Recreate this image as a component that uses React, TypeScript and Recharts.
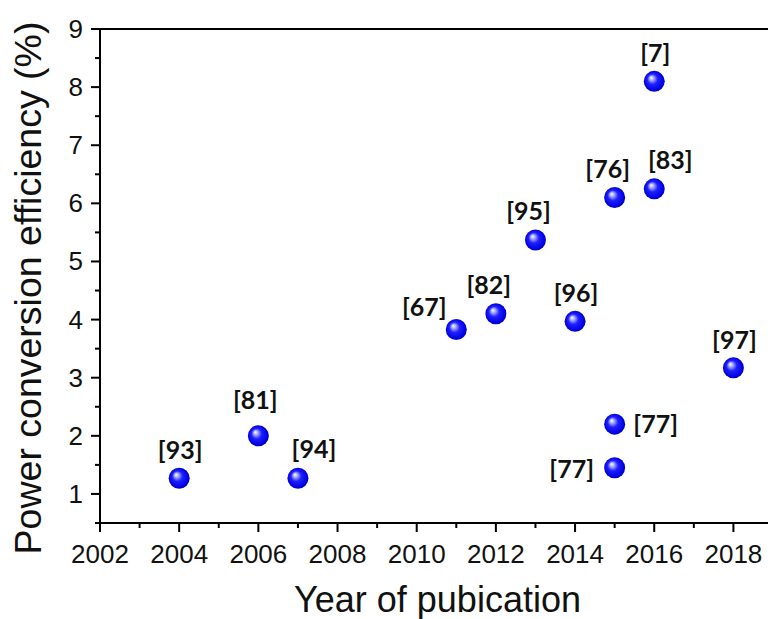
import React from "react";
import {
  ReferenceLine,
  Scatter,
  ScatterChart,
  XAxis,
  YAxis,
} from "recharts";

// values
const years = [2004, 2006, 2007, 2011, 2012, 2013, 2014, 2015, 2016, 2016, 2018, 2015, 2015];
const pce = [1.27, 2.0, 1.27, 3.83, 4.1, 5.37, 3.97, 6.1, 8.1, 6.25, 3.17, 2.2, 1.45];
const refs = ["[93]", "[81]", "[94]", "[67]", "[82]", "[95]", "[96]", "[76]", "[7]", "[83]", "[97]", "[77]", "[77]"];
const labelSide = [
  "above", "high", "aboveRight", "leftUp", "aboveLeft", "aboveLeft", "above",
  "aboveLeft", "above", "aboveRight", "above", "right", "left",
];

const xTicks = [2002, 2003, 2004, 2005, 2006, 2007, 2008, 2009, 2010, 2011, 2012, 2013, 2014, 2015, 2016, 2017, 2018, 2019];
const yTicks = [0.5, 1, 1.5, 2, 2.5, 3, 3.5, 4, 4.5, 5, 5.5, 6, 6.5, 7, 7.5, 8, 8.5, 9];

const points = years.map((year, i) => ({
  year,
  pce: pce[i],
  ref: refs[i],
  side: labelSide[i],
}));

const OFFSETS: Record<string, [number, number]> = {
  above: [1, -29],
  high: [-3, -37],
  aboveLeft: [-7, -30],
  aboveRight: [16, -30],
  leftUp: [-32, -23],
  right: [41, -1],
  left: [-43, 0],
};

const AXIS_FONT = "'Liberation Sans', Arial, sans-serif";
const LABEL_FONT = "Lato, 'Open Sans', sans-serif";

function XTick(props: any) {
  const { x, y, payload } = props;
  const major = payload.value % 2 === 0;
  if (payload.value > 2018) return null;
  return (
    <g>
      <line x1={x} x2={x} y1={y} y2={y + (major ? 9 : 5)} stroke="#000" strokeWidth={2} />
      {major && (
        <text x={x} y={y + 40} textAnchor="middle" fontSize={26} fontFamily={AXIS_FONT} fill="#111">
          {payload.value}
        </text>
      )}
    </g>
  );
}

function YTick(props: any) {
  const { x, y, payload } = props;
  const major = Number.isInteger(payload.value);
  return (
    <g>
      <line x1={x} x2={x - (major ? 9 : 5)} y1={y} y2={y} stroke="#000" strokeWidth={2} />
      {major && (
        <text x={x - 17} y={y + 9} textAnchor="end" fontSize={26} fontFamily={AXIS_FONT} fill="#111">
          {payload.value}
        </text>
      )}
    </g>
  );
}

function Ball(props: any) {
  const { cx, cy, payload } = props;
  const [dx, dy] = OFFSETS[payload.side] || [0, -30];
  return (
    <g>
      <circle cx={cx} cy={cy} r={10.5} fill="url(#ballGrad)" />
      <text
        x={cx + dx}
        y={cy + dy}
        textAnchor="middle"
        dominantBaseline="central"
        fontSize={25}
        fontWeight={700}
        fontFamily={LABEL_FONT}
        fill="#111"
      >
        {payload.ref}
      </text>
    </g>
  );
}

function XTitle(props: any) {
  const { viewBox } = props;
  return (
    <text
      x={viewBox.x + viewBox.width / 2 + 1}
      y={612}
      textAnchor="middle"
      fontSize={36}
      fontFamily={AXIS_FONT}
      fill="#111"
    >
      Year of pubication
    </text>
  );
}

function YTitle() {
  return (
    <text
      x={41}
      y={288}
      transform="rotate(-90, 41, 288)"
      textAnchor="middle"
      fontSize={37.5}
      fontFamily={AXIS_FONT}
      fill="#111"
    >
      Power conversion efficiency (%)
    </text>
  );
}

export default function App() {
  return (
    <div
      style={{
        position: "absolute",
        left: 0,
        top: 0,
        width: 768,
        height: 619,
        overflow: "hidden",
        background: "#fff",
      }}
    >
      <ScatterChart
        width={790}
        height={619}
        margin={{ top: 29, right: 17, bottom: 0, left: 0 }}
      >
        <defs>
          <radialGradient id="ballGrad" cx="50%" cy="50%" r="55%" fx="35%" fy="32%">
            <stop offset="0%" stopColor="#ffffff" />
            <stop offset="18%" stopColor="#aab0ff" />
            <stop offset="45%" stopColor="#2020ff" />
            <stop offset="85%" stopColor="#0000e0" />
            <stop offset="100%" stopColor="#00009a" />
          </radialGradient>
        </defs>
        <XAxis
          type="number"
          dataKey="year"
          domain={[2002, 2019]}
          ticks={xTicks}
          interval={0}
          height={96}
          tickSize={0}
          tickMargin={0}
          tickLine={false}
          axisLine={{ stroke: "#000", strokeWidth: 2 }}
          tick={<XTick />}
          label={<XTitle />}
        />
        <YAxis
          type="number"
          dataKey="pce"
          domain={[0.5, 9]}
          ticks={yTicks}
          interval={0}
          width={100}
          tickSize={0}
          tickMargin={0}
          tickLine={false}
          axisLine={{ stroke: "#000", strokeWidth: 2 }}
          tick={<YTick />}
          label={<YTitle />}
        />
        <ReferenceLine y={9} stroke="#000" strokeWidth={2} />
        <Scatter data={points} shape={<Ball />} isAnimationActive={false} />
      </ScatterChart>
    </div>
  );
}
